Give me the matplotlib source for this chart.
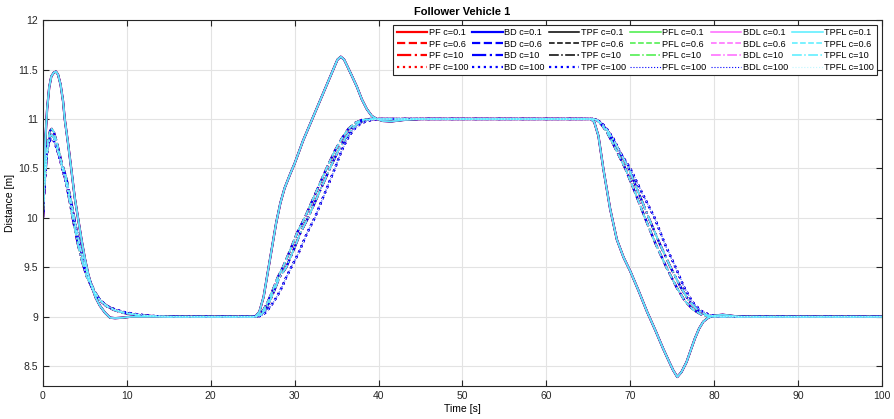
import numpy as np
import matplotlib
matplotlib.use("Agg")
import matplotlib.pyplot as plt

plt.rcParams['font.family'] = ['Liberation Sans', 'DejaVu Sans']

# ---------------------------------------------------------------------------
# data (time [s], distance [m])
# c = 0.1 : strong overshoot
t_c01 = [0, 0.15, 0.3, 0.5, 0.75, 1.0, 1.3, 1.55, 1.8, 2.1, 2.4, 2.6, 3.0, 3.4,
         3.8, 4.2, 4.6, 5.0, 5.4, 5.8, 6.3, 6.8, 7.4, 8.0, 8.6, 9.5, 10.5,
         25.3, 25.8, 26.3, 26.8, 27.3, 27.8, 28.3, 28.8, 29.5, 30.0, 31.0, 32.0,
         33.0, 34.0, 34.6, 35.1, 35.5, 35.9, 36.3, 36.8, 37.4, 38.0, 38.6, 39.2,
         39.8, 40.5, 41.5, 43.0, 45.0,
         65.3, 65.7, 66.2, 66.8, 67.6, 68.4, 69.2, 70.0, 71.0, 72.0, 73.0, 73.9,
         74.6, 75.1, 75.6, 76.1, 76.7, 77.2, 77.7, 78.2, 78.7, 79.3, 79.9, 81.0,
         83.0, 100]
d_c01 = [10.0, 10.4, 10.8, 11.1, 11.32, 11.43, 11.47, 11.48, 11.45, 11.35, 11.18,
         11.0, 10.75, 10.48, 10.2, 9.99, 9.78, 9.59, 9.43, 9.31, 9.19, 9.11, 9.04,
         8.99, 8.985, 8.99, 9.0,
         9.0, 9.05, 9.2, 9.45, 9.7, 9.95, 10.15, 10.3, 10.45, 10.55, 10.78, 10.98,
         11.18, 11.38, 11.5, 11.6, 11.63, 11.6, 11.53, 11.44, 11.33, 11.2, 11.1,
         11.03, 11.0, 10.98, 10.975, 10.99, 11.0,
         11.0, 10.97, 10.83, 10.49, 10.09, 9.78, 9.6, 9.46, 9.26, 9.05, 8.86, 8.68,
         8.55, 8.46, 8.39, 8.44, 8.54, 8.66, 8.78, 8.88, 8.95, 8.99, 9.01, 9.02,
         9.0, 9.0]

# c = 0.6
t_c06 = [0, 0.2, 0.4, 0.6, 0.85, 1.05, 1.3, 1.7, 2.2, 2.8, 3.4, 4.0, 4.5, 5.0,
         5.6, 6.2, 6.8, 7.5, 8.4, 9.5, 11.0, 13.0, 15.0,
         25.3, 25.8, 26.3, 26.8, 27.4, 28.0, 28.6, 29.5, 30.3, 31.2, 32.5, 33.8,
         34.8, 35.6, 36.4, 37.2, 38.0, 39.0,
         65.5, 66.0, 66.5, 67.2, 68.0, 69.4, 70.6, 71.75, 73.0, 74.3, 75.5, 76.5,
         77.5, 78.5, 79.5, 100]
d_c06 = [10.0, 10.35, 10.6, 10.78, 10.88, 10.9, 10.87, 10.75, 10.57, 10.4, 10.15,
         9.88, 9.68, 9.52, 9.36, 9.25, 9.17, 9.11, 9.07, 9.04, 9.02, 9.005, 9.0,
         9.0, 9.02, 9.07, 9.15, 9.27, 9.4, 9.5, 9.68, 9.85, 10.0, 10.25, 10.5,
         10.68, 10.8, 10.9, 10.96, 10.99, 11.0,
         11.0, 10.99, 10.95, 10.87, 10.74, 10.5, 10.25, 10.0, 9.74, 9.5, 9.3,
         9.16, 9.07, 9.02, 9.0, 9.0]

# c = 10
t_c10 = [0, 0.2, 0.4, 0.6, 0.85, 1.05, 1.3, 1.7, 2.2, 2.7, 3.2, 3.7, 4.2, 4.7,
         5.2, 5.8, 6.4, 7.0, 7.8, 8.8, 10.0, 12.0, 15.0,
         25.5, 26.0, 26.5, 27.0, 27.6, 28.2, 29.0, 29.9, 30.7, 31.6, 32.9, 34.2,
         35.2, 36.0, 36.8, 37.6, 38.4, 39.5,
         65.5, 66.0, 66.6, 67.4, 68.3, 69.8, 71.0, 72.2, 73.5, 74.8, 76.0, 77.0,
         78.0, 79.0, 80.0, 100]
d_c10 = [10.0, 10.33, 10.56, 10.73, 10.82, 10.84, 10.81, 10.7, 10.54, 10.38, 10.16,
         9.93, 9.72, 9.55, 9.41, 9.3, 9.21, 9.15, 9.1, 9.06, 9.035, 9.01, 9.0,
         9.0, 9.02, 9.07, 9.15, 9.27, 9.4, 9.5, 9.68, 9.85, 10.0, 10.25, 10.5,
         10.68, 10.8, 10.9, 10.96, 10.99, 11.0,
         11.0, 10.99, 10.95, 10.87, 10.74, 10.5, 10.25, 10.0, 9.74, 9.5, 9.3,
         9.16, 9.07, 9.02, 9.0, 9.0]

# c = 100 : slowest response
t_c100 = [0, 0.15, 0.3, 0.5, 0.75, 1.0, 1.3, 1.7, 2.1, 2.5, 3.0, 3.4, 3.9, 4.4,
          5.0, 5.6, 6.2, 6.8, 7.6, 8.4, 9.5, 10.8, 12.5, 15.0,
          25.5, 26.0, 26.5, 27.0, 27.5, 28.0, 28.5, 29.0, 29.6, 30.5, 31.5, 32.4,
          33.6, 34.8, 35.6, 36.3, 37.0, 37.8, 38.6, 39.5, 40.5,
          65.5, 66.0, 66.6, 67.2, 68.0, 68.8, 70.0, 71.3, 72.9, 74.2, 75.4, 76.4,
          77.4, 78.4, 79.4, 80.5, 100]
d_c100 = [10.0, 10.3, 10.5, 10.68, 10.77, 10.8, 10.78, 10.69, 10.57, 10.44, 10.27,
          10.12, 9.92, 9.72, 9.53, 9.35, 9.24, 9.17, 9.11, 9.08, 9.05, 9.03, 9.01,
          9.0,
          9.0, 9.01, 9.04, 9.09, 9.15, 9.22, 9.3, 9.4, 9.5, 9.65, 9.85, 10.0,
          10.25, 10.5, 10.68, 10.8, 10.89, 10.95, 10.98, 10.995, 11.0,
          11.0, 10.99, 10.96, 10.9, 10.8, 10.66, 10.5, 10.27, 10.0, 9.72, 9.5,
          9.3, 9.15, 9.06, 9.02, 9.0, 9.0]

controllers = ['PF', 'BD', 'TPF', 'PFL', 'BDL', 'TPFL']
c_values = ['0.1', '0.6', '10', '100']
curves = {'0.1': (t_c01, d_c01), '0.6': (t_c06, d_c06),
          '10': (t_c10, d_c10), '100': (t_c100, d_c100)}

# ---------------------------------------------------------------------------
# line styles per controller (solid, dashed, dash-dot, dotted)
green = '#44ee44'
pink = '#ff66ff'
cyan = '#55eeff'
styles = {
    'PF':   [('red', '-', 1.6), ('red', '--', 1.6), ('red', '-.', 1.6), ('red', ':', 1.6)],
    'BD':   [('blue', '-', 1.6), ('blue', '--', 1.6), ('blue', '-.', 1.6), ('blue', ':', 1.6)],
    'TPF':  [('black', '-', 1.1), ('black', '--', 1.1), ('black', '-.', 1.1), ('blue', ':', 1.6)],
    'PFL':  [(green, '-', 1.1), (green, '--', 1.1), (green, '-.', 1.1), ('blue', ':', 0.8)],
    'BDL':  [(pink, '-', 1.1), (pink, '--', 1.1), (pink, '-.', 1.1), ('blue', ':', 0.8)],
    'TPFL': [(cyan, '-', 1.1), (cyan, '--', 1.1), (cyan, '-.', 1.1), ('#bff7ff', ':', 0.8)],
}

fig = plt.figure(figsize=(8.94, 4.19), dpi=100)
ax = fig.add_axes([0.048, 0.079, 0.9386, 0.873])

for ctrl in controllers:
    for c, (col, ls, lw) in zip(c_values, styles[ctrl]):
        t, d = curves[c]
        ax.plot(t, d, color=col, linestyle=ls, linewidth=lw,
                label=f'{ctrl} c={c}')

ax.set_xlim(0, 100)
ax.set_ylim(8.3, 12)
ax.set_xticks(np.arange(0, 101, 10))
ax.set_yticks([8.5, 9, 9.5, 10, 10.5, 11, 11.5, 12])
ax.set_yticklabels(['8.5', '9', '9.5', '10', '10.5', '11', '11.5', '12'])
ax.tick_params(direction='in', top=True, right=True, labelsize=7.5,
               colors='#262626', length=4)
ax.grid(True, color='#e3e3e3', linewidth=0.8)
ax.set_axisbelow(True)
for s in ax.spines.values():
    s.set_color('#262626')
    s.set_linewidth(0.8)

ax.set_xlabel('Time [s]', fontsize=7.5, labelpad=2)
ax.set_ylabel('Distance [m]', fontsize=7.5, labelpad=2)
ax.set_title('Follower Vehicle 1', fontsize=8, fontweight='bold', pad=4)

leg = ax.legend(ncol=6, loc='upper right', fontsize=6.6, frameon=True,
                fancybox=False, edgecolor='#262626', framealpha=1,
                handlelength=3.3, handletextpad=0.2, columnspacing=0.45,
                labelspacing=0.3, borderpad=0.35, borderaxespad=0.5)
leg.get_frame().set_linewidth(0.8)

fig.savefig('out.png', dpi=100, facecolor='white')
